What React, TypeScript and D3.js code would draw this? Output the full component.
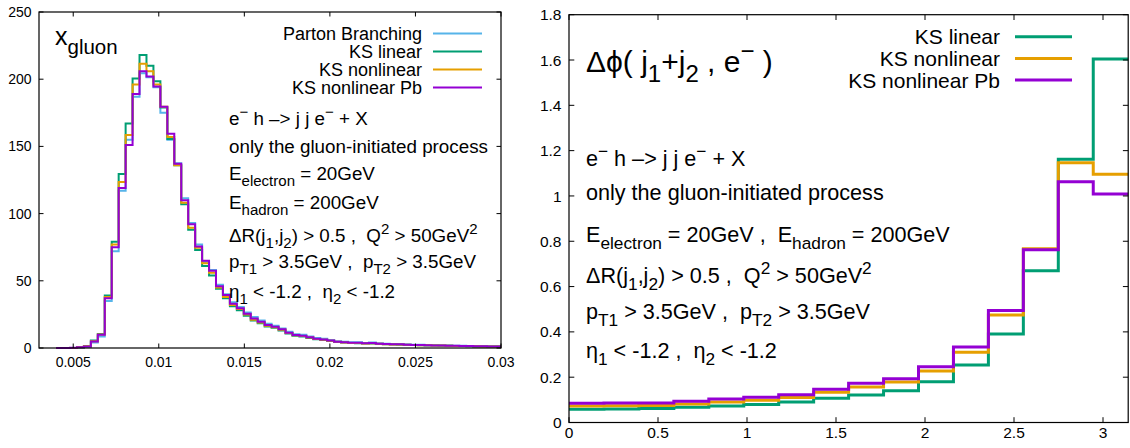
import React, { useRef, useEffect } from 'react';
import * as d3 from 'd3';

// x_gluon histogram: 64 equal bins between these edges
const gluonRange = [0.004, 0.03];
const gluonParton = [0, 0, 0, 0.3, 1, 4, 8.5, 35, 72, 117, 155, 187, 204.5, 201.5, 194, 175, 155, 137.5, 111.5, 93, 77, 64, 58, 47, 40, 34, 30.5, 26.5, 23, 20.5, 18, 16.5, 14.5, 12, 10.3, 9.8, 8.5, 7.4, 6.9, 6, 5.1, 4.6, 4.2, 4.2, 3.8, 4, 3.5, 3.2, 3, 2.9, 2.7, 2.5, 2.4, 2.2, 2.1, 2, 1.9, 1.7, 1.6, 1.5, 1.4, 1.4, 1.3, 1.3];
const gluonLinear = [0, 0, 0, 0.5, 1.5, 5.5, 10.5, 39, 79, 129.5, 167, 200.5, 218, 210, 198.5, 179, 155.5, 136, 107, 88, 73, 61, 54, 44, 37, 31, 28, 24, 20.5, 18.5, 16, 15, 13, 10.8, 9.2, 8.6, 7.5, 6.5, 6, 5.2, 4.4, 4, 3.7, 3.6, 3.3, 3.4, 3, 2.8, 2.6, 2.5, 2.3, 2.2, 2.1, 1.9, 1.8, 1.7, 1.6, 1.5, 1.4, 1.3, 1.2, 1.2, 1.1, 1.1];
const gluonNonlinear = [0, 0, 0, 0.5, 1.3, 5, 10, 38, 77, 123.5, 158.5, 196, 211.5, 206, 196, 179.5, 157, 136, 108, 89.5, 74.5, 63, 56, 45, 38, 32, 29, 25, 21, 19, 16.5, 15.5, 13.5, 11.1, 9.5, 8.9, 7.8, 6.7, 6.2, 5.4, 4.6, 4.1, 3.8, 3.8, 3.4, 3.6, 3.1, 2.8, 2.6, 2.6, 2.4, 2.2, 2.1, 2, 1.9, 1.8, 1.7, 1.5, 1.4, 1.4, 1.3, 1.2, 1.2, 1.1];
const gluonNonlinearPb = [0, 0, 0.2, 0.5, 1.2, 4.8, 9.8, 37, 75, 119, 151, 189, 206, 202, 194.5, 179.5, 159.5, 137, 110, 92, 75.5, 65, 57.5, 46, 39.5, 33, 29.5, 25.5, 22, 19.6, 17.1, 15.9, 13.9, 11.4, 9.7, 9.2, 8, 6.9, 6.4, 5.5, 4.7, 4.2, 3.9, 3.9, 3.5, 3.7, 3.2, 2.9, 2.7, 2.7, 2.5, 2.3, 2.2, 2, 1.9, 1.8, 1.7, 1.6, 1.5, 1.4, 1.3, 1.3, 1.2, 1.2];

// delta phi histogram: 16 equal bins over [0, pi]
const dphiLinear = [0.058, 0.06, 0.062, 0.067, 0.073, 0.079, 0.09, 0.107, 0.121, 0.14, 0.18, 0.254, 0.391, 0.67, 1.162, 1.605];
const dphiNonlinear = [0.073, 0.074, 0.075, 0.082, 0.09, 0.098, 0.11, 0.133, 0.157, 0.179, 0.227, 0.31, 0.475, 0.767, 1.147, 1.096];
const dphiNonlinearPb = [0.085, 0.086, 0.086, 0.0935, 0.104, 0.111, 0.123, 0.147, 0.173, 0.193, 0.246, 0.333, 0.494, 0.762, 1.063, 1.009];

const leftXTicks = [0.005, 0.01, 0.015, 0.02, 0.025, 0.03];
const leftYTicks = [0, 50, 100, 150, 200, 250];
const rightXTicks = [0, 0.5, 1, 1.5, 2, 2.5, 3];
const rightYTicks = [0, 0.2, 0.4, 0.6, 0.8, 1, 1.2, 1.4, 1.6, 1.8];

const BLUE = '#56b4e9';
const GREEN = '#009e73';
const ORANGE = '#e69f00';
const PURPLE = '#9400d3';
const FONT = '"Liberation Sans", Arial, Helvetica, sans-serif';

// text with gnuplot-like sub/superscripts: parts = [[str, 'sub'|'sup'|undefined], ...]
const richText = (g, x, y, parts, fs, anchor = 'start', subFs = fs * 0.8) => {
  const t = g.append('text')
    .attr('x', x)
    .attr('y', y)
    .attr('font-size', fs)
    .attr('text-anchor', anchor)
    .attr('fill', '#000')
    .style('white-space', 'pre');
  let shift = 0;
  parts.forEach(([str, kind]) => {
    const target = kind === 'sub' ? fs * 0.34 : kind === 'sup' ? -fs * 0.42 : 0;
    t.append('tspan')
      .attr('dy', target - shift)
      .attr('font-size', kind ? subFs : fs)
      .text(str);
    shift = target;
  });
  return t;
};

const infoLines = (twoCol) => {
  const lines = [
    [['e'], ['−', 'sup'], [' h –> j j e'], ['−', 'sup'], [' + X']],
    [['only the gluon-initiated process']],
  ];
  if (twoCol) {
    lines.push([['E'], ['electron', 'sub'], [' = 20GeV ,  E'], ['hadron', 'sub'], [' = 200GeV']]);
  } else {
    lines.push([['E'], ['electron', 'sub'], [' = 20GeV']]);
    lines.push([['E'], ['hadron', 'sub'], [' = 200GeV']]);
  }
  lines.push([['ΔR(j'], ['1', 'sub'], [',j'], ['2', 'sub'], [') > 0.5 ,  Q'], ['2', 'sup'], [' > 50GeV'], ['2', 'sup']]);
  lines.push([['p'], ['T1', 'sub'], [' > 3.5GeV ,  p'], ['T2', 'sub'], [' > 3.5GeV']]);
  lines.push([['η'], ['1', 'sub'], [' < -1.2 ,  η'], ['2', 'sub'], [' < -1.2']]);
  return lines;
};

const drawPanel = (svg, cfg) => {
  const { x0, x1, y0, y1, xDomain, yDomain, xTicks, yTicks, xFmt, tickFs, tickLen } = cfg;
  const x = d3.scaleLinear().domain(xDomain).range([x0, x1]);
  const y = d3.scaleLinear().domain(yDomain).range([y1, y0]);
  const g = svg.append('g');

  // histograms
  const stepLine = d3.line().x(d => x(d[0])).y(d => y(d[1])).curve(d3.curveStepAfter);
  cfg.series.forEach(s => {
    const n = s.values.length;
    const w = (s.range[1] - s.range[0]) / n;
    const pts = s.values.map((v, i) => [s.range[0] + i * w, v]);
    pts.push([s.range[1], s.values[n - 1]]);
    g.append('path')
      .attr('d', stepLine(pts))
      .attr('fill', 'none')
      .attr('stroke', s.color)
      .attr('stroke-width', cfg.lineWidth)
      .attr('stroke-linejoin', 'miter');
  });

  // frame + mirrored inward ticks
  g.append('rect')
    .attr('x', x0).attr('y', y0)
    .attr('width', x1 - x0).attr('height', y1 - y0)
    .attr('fill', 'none').attr('stroke', '#000').attr('stroke-width', 1.2);

  xTicks.forEach(t => {
    const px = x(t);
    g.append('line').attr('x1', px).attr('x2', px).attr('y1', y1).attr('y2', y1 - tickLen).attr('stroke', '#000');
    g.append('line').attr('x1', px).attr('x2', px).attr('y1', y0).attr('y2', y0 + tickLen).attr('stroke', '#000');
    g.append('text')
      .attr('x', px).attr('y', cfg.xLabelY)
      .attr('text-anchor', 'middle')
      .attr('font-size', tickFs)
      .text(xFmt(t));
  });
  yTicks.forEach(t => {
    const py = y(t);
    g.append('line').attr('x1', x0).attr('x2', x0 + tickLen).attr('y1', py).attr('y2', py).attr('stroke', '#000');
    g.append('line').attr('x1', x1).attr('x2', x1 - tickLen).attr('y1', py).attr('y2', py).attr('stroke', '#000');
    g.append('text')
      .attr('x', cfg.yLabelX).attr('y', py + tickFs * 0.36)
      .attr('text-anchor', 'end')
      .attr('font-size', tickFs)
      .text(String(t));
  });

  // legend
  cfg.series.forEach((s, i) => {
    const cy = cfg.legend.y + i * cfg.legend.dy;
    g.append('text')
      .attr('x', cfg.legend.textX).attr('y', cy + cfg.legend.fs * 0.36)
      .attr('text-anchor', 'end')
      .attr('font-size', cfg.legend.fs)
      .text(s.name);
    g.append('line')
      .attr('x1', cfg.legend.lineX[0]).attr('x2', cfg.legend.lineX[1])
      .attr('y1', cy).attr('y2', cy)
      .attr('stroke', s.color).attr('stroke-width', cfg.lineWidth);
  });

  // info text block
  cfg.info.lines.forEach((parts, i) => {
    richText(g, cfg.info.x, cfg.info.ys[i], parts, cfg.info.fs);
  });
  return g;
};

export default function App() {
  const svgRef = useRef(null);

  useEffect(() => {
    const svg = d3.select(svgRef.current);
    svg.selectAll('*').remove();
    svg.attr('font-family', FONT);

    const gl = drawPanel(svg, {
      x0: 39, x1: 501, y0: 12, y1: 348,
      xDomain: [0.003, 0.03], yDomain: [0, 250],
      xTicks: leftXTicks, yTicks: leftYTicks,
      xFmt: d => String(d), tickFs: 14, tickLen: 4.5,
      xLabelY: 367, yLabelX: 31.5,
      lineWidth: 2,
      series: [
        { name: 'Parton Branching', color: BLUE, values: gluonParton, range: gluonRange },
        { name: 'KS linear', color: GREEN, values: gluonLinear, range: gluonRange },
        { name: 'KS nonlinear', color: ORANGE, values: gluonNonlinear, range: gluonRange },
        { name: 'KS nonlinear Pb', color: PURPLE, values: gluonNonlinearPb, range: gluonRange },
      ],
      legend: { textX: 422, lineX: [433, 482], y: 33.5, dy: 18, fs: 18 },
      info: { x: 229, fs: 18.8, ys: [125, 153, 180, 209, 241.5, 268, 298], lines: infoLines(false) },
    });
    richText(gl, 55, 45, [['x'], ['gluon', 'sub']], 25, 'start', 20.5);

    const gr = drawPanel(svg, {
      x0: 569, x1: 569 + Math.PI * 178, y0: 14.7, y1: 422.5,
      xDomain: [0, Math.PI], yDomain: [0, 1.8],
      xTicks: rightXTicks, yTicks: rightYTicks,
      xFmt: d => String(d), tickFs: 15.5, tickLen: 5.3,
      xLabelY: 438, yLabelX: 561.5,
      lineWidth: 3,
      series: [
        { name: 'KS linear', color: GREEN, values: dphiLinear, range: [0, Math.PI] },
        { name: 'KS nonlinear', color: ORANGE, values: dphiNonlinear, range: [0, Math.PI] },
        { name: 'KS nonlinear Pb', color: PURPLE, values: dphiNonlinearPb, range: [0, Math.PI] },
      ],
      legend: { textX: 1000, lineX: [1015, 1072], y: 36.7, dy: 21.7, fs: 21 },
      info: { x: 586, fs: 21.6, ys: [166, 200, 241.5, 283, 319, 357.5], lines: infoLines(true) },
    });
    richText(gr, 586, 72, [['Δϕ( j'], ['1', 'sub'], ['+j'], ['2', 'sub'], [' , e'], ['−', 'sup'], [' )']], 30);
  }, []);

  return (
    <svg
      ref={svgRef}
      width={1130}
      height={448}
      style={{ position: 'absolute', left: 0, top: 0, background: '#fff' }}
    />
  );
}
